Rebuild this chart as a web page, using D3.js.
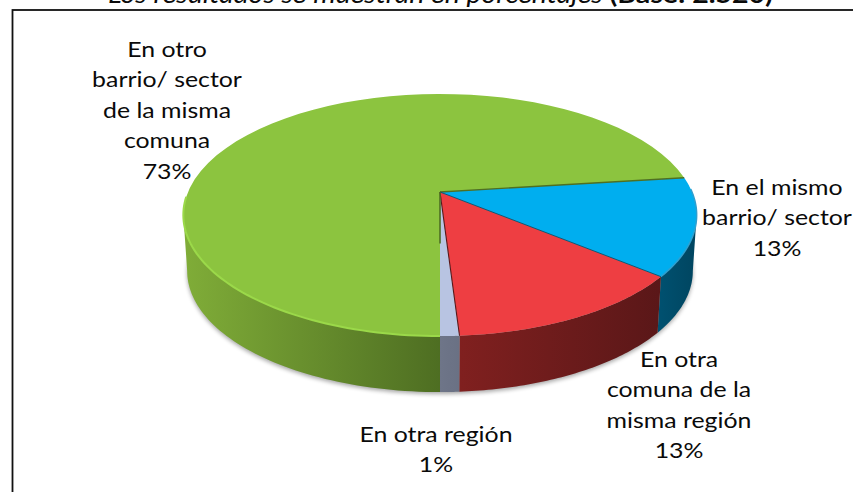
<!DOCTYPE html>
<html><head><meta charset="utf-8">
<script src="https://cdn.jsdelivr.net/npm/d3@7"></script>
<style>html,body{margin:0;padding:0;background:#fff;overflow:hidden}svg{display:block}text{font-family:Lato,"Open Sans",sans-serif;fill:#0a0a0a}</style>
</head><body><svg id="c" width="853" height="492"></svg>
<script>
const categories = ["En otro barrio/ sector de la misma comuna","En el mismo barrio/ sector","En otra comuna de la misma región","En otra región"];
const values = [73,13,13,1];
const labelLines = [["En otro","barrio/ sector","de la misma","comuna","73%"],["En el mismo","barrio/ sector","13%"],["En otra","comuna de la","misma región","13%"],["En otra región","1%"]];
const faceColors = ["#8cc43f","#00aeef","#ee3e42","#b8c4e2"];
const wallFrom = ["#80ad38","#00506f","#80201f","#6e7588"];
const wallTo = ["#4e6e22","#004560","#5a1718","#6a7184"];
const svg = d3.select("#c");
const W=853,H=492;
svg.append("rect").attr("x",12.5).attr("y",10).attr("width",W+20).attr("height",H+20).attr("fill","#fff").attr("stroke","#111").attr("stroke-width",1.8);
const title = svg.append("text").attr("transform","translate(440.5,3) scale(1.14,1)").attr("text-anchor","middle").attr("font-size",25);
title.append("tspan").attr("font-style","italic").text("Los resultados se muestran en porcentajes ");
title.append("tspan").attr("font-weight","bold").text("(Base: 2.520)");

// perspective projection of the pie disc
const cx=440,cy=192,k=0.19,A=116.7,B=252,depth=56,bs=0.985;
const proj=(ang,bottom)=>{const u=Math.sin(ang),v=-Math.cos(ang),d=1-k*v;
  return [cx+(bottom?bs:1)*B*u/d, cy+A*v/d+(bottom?depth:0)];};
const pie=d3.pie().sort(null).startAngle(Math.PI).endAngle(3*Math.PI).value(d=>d);
const arcs=pie(values);
const line=d3.line();
const samples=(a,b)=>d3.range(0,61).map(i=>a+(b-a)*i/60);
const defs=svg.append("defs");
const blur=defs.append("filter").attr("id","sh").attr("x","-10%").attr("y","-10%").attr("width","120%").attr("height","120%");
blur.append("feGaussianBlur").attr("stdDeviation",2);
const soft=defs.append("filter").attr("id","soft").attr("x","-10%").attr("y","-10%").attr("width","120%").attr("height","120%");
soft.append("feGaussianBlur").attr("stdDeviation",0.5);
// walls: only the part of each slice facing the viewer
const visFrom=Math.PI/2+Math.asin(k), visTo=1.5*Math.PI-Math.asin(k);
const wallRange=d=>{
  const segs=[];
  for(const off of [0,2*Math.PI]){
    const a=Math.max(d.startAngle,visFrom+off),b=Math.min(d.endAngle,visTo+off);
    if(b>a) segs.push([a,b]);
  }
  return segs;
};
arcs.forEach((d,i)=>{
  const xs=wallRange(d).flatMap(([a,b])=>samples(a,b)).map(a=>proj(a,false)[0]);
  const g=defs.append("linearGradient").attr("id","w"+i).attr("gradientUnits","userSpaceOnUse")
    .attr("y1",0).attr("y2",0).attr("x1",d3.min(xs)).attr("x2",d3.max(xs));
  g.append("stop").attr("offset",0).attr("stop-color",wallFrom[i]);
  g.append("stop").attr("offset",1).attr("stop-color",wallTo[i]);
});
// shadow under the walls
svg.append("path").attr("d",line(d3.range(0,241).map(i=>{const p=proj(i/240*2*Math.PI,true);return [p[0],p[1]+2];}))+"Z")
  .attr("fill","#000").attr("opacity",.35).attr("filter","url(#sh)");
const wallPath=(a,b)=>{const t=samples(a,b).map(x=>proj(x,false)),bo=samples(a,b).reverse().map(x=>proj(x,true));return line(t.concat(bo))+"Z";};
const walls=svg.append("g");
arcs.forEach((d,i)=>{
  wallRange(d).forEach(([a,b])=>{walls.append("path").attr("d",wallPath(a,b)).attr("fill",`url(#w${i})`);});
});
// top faces
const faces=svg.append("g");
const sliceD=d=>line([[cx,cy]].concat(samples(d.startAngle,d.endAngle).map(a=>proj(a,false))))+"Z";
faces.selectAll("path.face").data(arcs).join("path").attr("class","face").attr("d",sliceD).attr("fill",(d,i)=>faceColors[i]);
// bright bevel along the front rim of the green slice and soft rim on blue
svg.append("path").attr("d",line(samples(arcs[0].startAngle,visTo+0.15).map(a=>proj(a,false)))).attr("fill","none").attr("stroke","#9bd94a").attr("stroke-width",2).attr("filter","url(#soft)");
svg.append("path").attr("d",line(samples(arcs[1].startAngle+0.1,arcs[1].endAngle).map(a=>proj(a,false)))).attr("fill","none").attr("stroke","#2f9fcf").attr("stroke-width",1.5).attr("filter","url(#soft)");
// slice edges meeting at the apex
const edge=(ang,col,w)=>svg.append("path").attr("d",line([[cx,cy],proj(ang,false)])).attr("fill","none").attr("stroke",col).attr("stroke-width",w);
edge(arcs[0].endAngle,"#4f6f22",1.4);
edge(arcs[1].endAngle,"#0a5a78",1);
edge(arcs[2].endAngle,"#5a1718",1.1);
svg.append("path").attr("d",line([[cx,cy],[cx,cy+depth*0.92]])).attr("stroke","#4e6e22").attr("stroke-width",1.6).attr("fill","none");
// labels
const labelPos=[[167,57],[777,195],[679,367],[436,442]];
const fs=22, sx=1.13, lh=30.5;
labelLines.forEach((ls,i)=>{
  const t=svg.append("text").attr("text-anchor","middle").attr("font-size",fs)
    .attr("transform",`translate(${labelPos[i][0]},${labelPos[i][1]}) scale(${sx},1)`);
  ls.forEach((s,j)=>t.append("tspan").attr("x",0).attr("y",j*lh).text(s));
});
</script></body></html>
